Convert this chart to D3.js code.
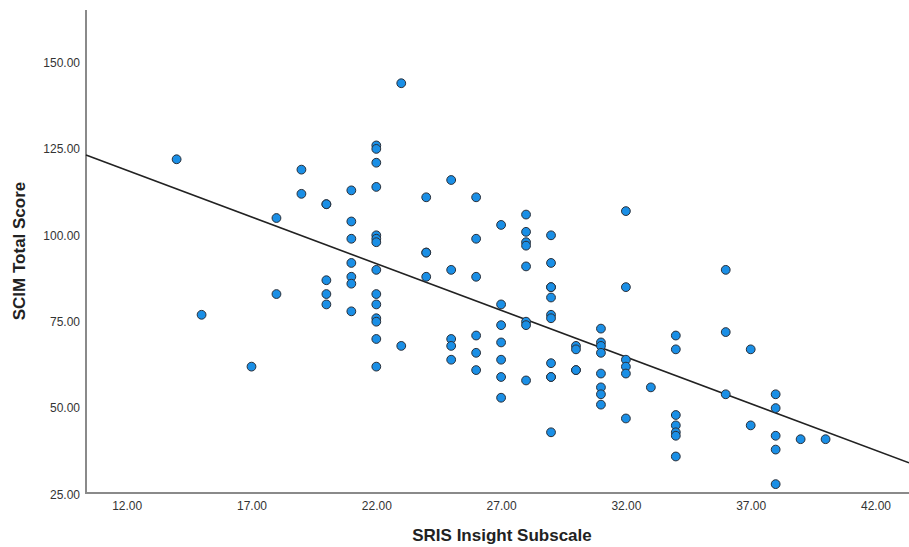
<!DOCTYPE html>
<html>
<head>
<meta charset="utf-8">
<script src="https://cdn.jsdelivr.net/npm/d3@7"></script>
<style>
  body { margin: 0; background: #fff; }
  svg { display: block; font-family: "Liberation Sans", Arial, sans-serif; }
</style>
</head>
<body>
<svg width="909" height="547"></svg>
<script>
// SRIS insight (x) vs SCIM total (y), grouped by x column
const xValues = [14, 15, 17, 18, 18, 19, 19,
  20, 20, 20, 20, 20,
  21, 21, 21, 21, 21, 21, 21,
  22, 22, 22, 22, 22, 22, 22, 22, 22, 22, 22, 22, 22, 22,
  23, 23,
  24, 24, 24, 24,
  25, 25, 25, 25, 25,
  26, 26, 26, 26, 26, 26,
  27, 27, 27, 27, 27, 27, 27,
  28, 28, 28, 28, 28, 28, 28, 28,
  29, 29, 29, 29, 29, 29, 29, 29, 29, 29, 29,
  30, 30, 30, 30,
  31, 31, 31, 31, 31, 31, 31, 31,
  32, 32, 32, 32, 32, 32,
  33,
  34, 34, 34, 34, 34, 34, 34,
  36, 36, 36,
  37, 37,
  38, 38, 38, 38, 38,
  39, 40];
const yValues = [122, 77, 62, 105, 83, 119, 112,
  109, 109, 87, 83, 80,
  113, 104, 99, 92, 88, 86, 78,
  126, 125, 121, 114, 100, 99, 98, 90, 83, 80, 76, 75, 70, 62,
  144, 68,
  111, 95, 95, 88,
  116, 90, 70, 68, 64,
  111, 99, 88, 71, 66, 61,
  103, 80, 74, 69, 64, 59, 53,
  106, 101, 98, 97, 91, 75, 74, 58,
  100, 92, 85, 85, 82, 77, 76, 63, 59, 59, 43,
  68, 67, 61, 61,
  73, 69, 68, 66, 60, 56, 54, 51,
  107, 85, 64, 62, 60, 47,
  56,
  71, 67, 48, 45, 43, 42, 36,
  90, 72, 54,
  67, 45,
  54, 50, 42, 38, 28,
  41, 41];

const xTicks = [12, 17, 22, 27, 32, 37, 42];
const yTicks = [25, 50, 75, 100, 125, 150];

// fitted line: y = fitIntercept + fitSlope * x
const fitIntercept = 151.2;
const fitSlope = -2.70;

const svg = d3.select("svg");
const plot = {left: 86, right: 909, top: 10, bottom: 493};

const xscale = d3.scaleLinear().domain([12, 42]).range([126.7, 875.5]);
const yscale = d3.scaleLinear().domain([25, 150]).range([494.5, 62.5]);

const data = xValues.map((x, i) => ({x: x, y: yValues[i]}));

// axis lines
svg.append("line")
    .attr("x1", plot.left).attr("x2", plot.left)
    .attr("y1", plot.top).attr("y2", plot.bottom)
    .attr("stroke", "#8a8a8a").attr("stroke-width", 2);
svg.append("line")
    .attr("x1", plot.left - 1).attr("x2", plot.right)
    .attr("y1", plot.bottom).attr("y2", plot.bottom)
    .attr("stroke", "#8a8a8a").attr("stroke-width", 2);

const yAxis = svg.append("g")
    .attr("transform", `translate(${plot.left - 6},0)`)
    .call(d3.axisLeft(yscale).tickValues(yTicks).tickSize(0).tickPadding(0)
        .tickFormat(d3.format(".2f")));
yAxis.select(".domain").remove();
yAxis.selectAll("text")
    .attr("font-size", 12).attr("fill", "#333")
    .attr("font-family", "Liberation Sans, Arial, sans-serif");

const xAxis = svg.append("g")
    .attr("transform", `translate(0,${plot.bottom})`)
    .call(d3.axisBottom(xscale).tickValues(xTicks).tickSize(0).tickPadding(8)
        .tickFormat(d3.format(".2f")));
xAxis.select(".domain").remove();
xAxis.selectAll("text")
    .attr("font-size", 12).attr("fill", "#333")
    .attr("font-family", "Liberation Sans, Arial, sans-serif");

// axis titles
svg.append("text")
    .attr("x", 502).attr("y", 541)
    .attr("text-anchor", "middle")
    .attr("font-size", 17).attr("font-weight", "bold").attr("fill", "#222")
    .text("SRIS Insight Subscale");
svg.append("text")
    .attr("transform", `translate(25,251) rotate(-90)`)
    .attr("text-anchor", "middle")
    .attr("font-size", 17).attr("font-weight", "bold").attr("fill", "#222")
    .text("SCIM Total Score");

// regression line across the full plot width
const x0 = xscale.invert(plot.left), x1 = xscale.invert(plot.right);
svg.append("line")
    .attr("x1", xscale(x0)).attr("y1", yscale(fitIntercept + fitSlope * x0))
    .attr("x2", xscale(x1)).attr("y2", yscale(fitIntercept + fitSlope * x1))
    .attr("stroke", "#222").attr("stroke-width", 1.6);

svg.append("g").selectAll("circle").data(data)
  .enter().append("circle")
    .attr("cx", d => xscale(d.x))
    .attr("cy", d => yscale(d.y))
    .attr("r", 4.4)
    .attr("fill", "#1a8fe6")
    .attr("stroke", "#2a2f38")
    .attr("stroke-width", 1);
</script>
</body>
</html>
